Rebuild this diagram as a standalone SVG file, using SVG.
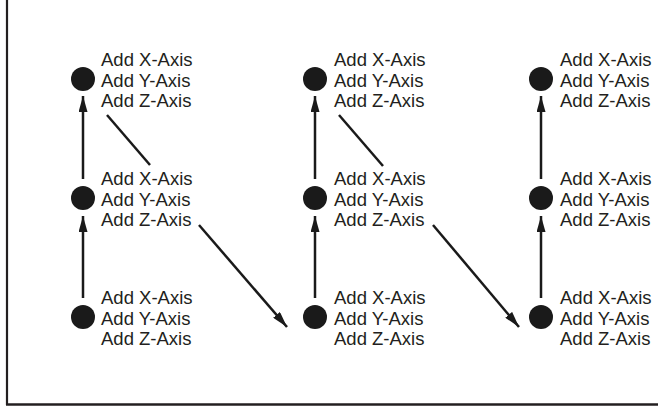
<svg xmlns="http://www.w3.org/2000/svg" width="658" height="408" viewBox="0 0 658 408">
<style>
.t{font-family:"Liberation Sans",Arial,sans-serif;font-size:18.5px;fill:#231f20}
.c{fill:#1a1a1a}
.l{stroke:#1a1a1a;stroke-width:2.5;fill:none}
</style>
<defs>
<marker id="ah" markerUnits="userSpaceOnUse" markerWidth="17" markerHeight="9" refX="16" refY="4.5" orient="auto">
<path d="M0,0 L16,4.5 L0,9 z" fill="#1a1a1a"/>
</marker>
</defs>
<rect width="658" height="408" fill="#fff"/>
<g id="axes">
<line x1="7" y1="0" x2="7" y2="405" stroke="#231f20" stroke-width="2.2"/>
<line x1="6" y1="404.5" x2="658" y2="404.5" stroke="#231f20" stroke-width="2.6"/>
</g>
<g id="connectors">
<line class="l" x1="83" y1="298" x2="83" y2="216" marker-end="url(#ah)"/>
<line class="l" x1="83" y1="179" x2="83" y2="96" marker-end="url(#ah)"/>
<line class="l" x1="315" y1="298" x2="315" y2="216" marker-end="url(#ah)"/>
<line class="l" x1="315" y1="179" x2="315" y2="96" marker-end="url(#ah)"/>
<line class="l" x1="541" y1="298" x2="541" y2="216" marker-end="url(#ah)"/>
<line class="l" x1="541" y1="179" x2="541" y2="96" marker-end="url(#ah)"/>
<line class="l" x1="107" y1="115" x2="150" y2="165"/>
<line class="l" x1="339" y1="115" x2="383" y2="166"/>
<line class="l" x1="199" y1="225" x2="287" y2="327" marker-end="url(#ah)"/>
<line class="l" x1="433" y1="225" x2="519" y2="327" marker-end="url(#ah)"/>
</g>
<g id="n1-top"><circle class="c" cx="83" cy="79" r="12"/><text class="t"><tspan x="101" y="66">Add X-Axis</tspan><tspan x="101" y="86.5">Add Y-Axis</tspan><tspan x="101" y="107">Add Z-Axis</tspan></text></g>
<g id="n1-mid"><circle class="c" cx="83" cy="198" r="12"/><text class="t"><tspan x="101" y="185">Add X-Axis</tspan><tspan x="101" y="205.5">Add Y-Axis</tspan><tspan x="101" y="226">Add Z-Axis</tspan></text></g>
<g id="n1-bot"><circle class="c" cx="83" cy="317" r="12"/><text class="t"><tspan x="101" y="304">Add X-Axis</tspan><tspan x="101" y="324.5">Add Y-Axis</tspan><tspan x="101" y="345">Add Z-Axis</tspan></text></g>
<g id="n2-top"><circle class="c" cx="315" cy="79" r="12"/><text class="t"><tspan x="334" y="66">Add X-Axis</tspan><tspan x="334" y="86.5">Add Y-Axis</tspan><tspan x="334" y="107">Add Z-Axis</tspan></text></g>
<g id="n2-mid"><circle class="c" cx="315" cy="198" r="12"/><text class="t"><tspan x="334" y="185">Add X-Axis</tspan><tspan x="334" y="205.5">Add Y-Axis</tspan><tspan x="334" y="226">Add Z-Axis</tspan></text></g>
<g id="n2-bot"><circle class="c" cx="315" cy="317" r="12"/><text class="t"><tspan x="334" y="304">Add X-Axis</tspan><tspan x="334" y="324.5">Add Y-Axis</tspan><tspan x="334" y="345">Add Z-Axis</tspan></text></g>
<g id="n3-top"><circle class="c" cx="541" cy="79" r="12"/><text class="t"><tspan x="560" y="66">Add X-Axis</tspan><tspan x="560" y="86.5">Add Y-Axis</tspan><tspan x="560" y="107">Add Z-Axis</tspan></text></g>
<g id="n3-mid"><circle class="c" cx="541" cy="198" r="12"/><text class="t"><tspan x="560" y="185">Add X-Axis</tspan><tspan x="560" y="205.5">Add Y-Axis</tspan><tspan x="560" y="226">Add Z-Axis</tspan></text></g>
<g id="n3-bot"><circle class="c" cx="541" cy="317" r="12"/><text class="t"><tspan x="560" y="304">Add X-Axis</tspan><tspan x="560" y="324.5">Add Y-Axis</tspan><tspan x="560" y="345">Add Z-Axis</tspan></text></g>
</svg>
